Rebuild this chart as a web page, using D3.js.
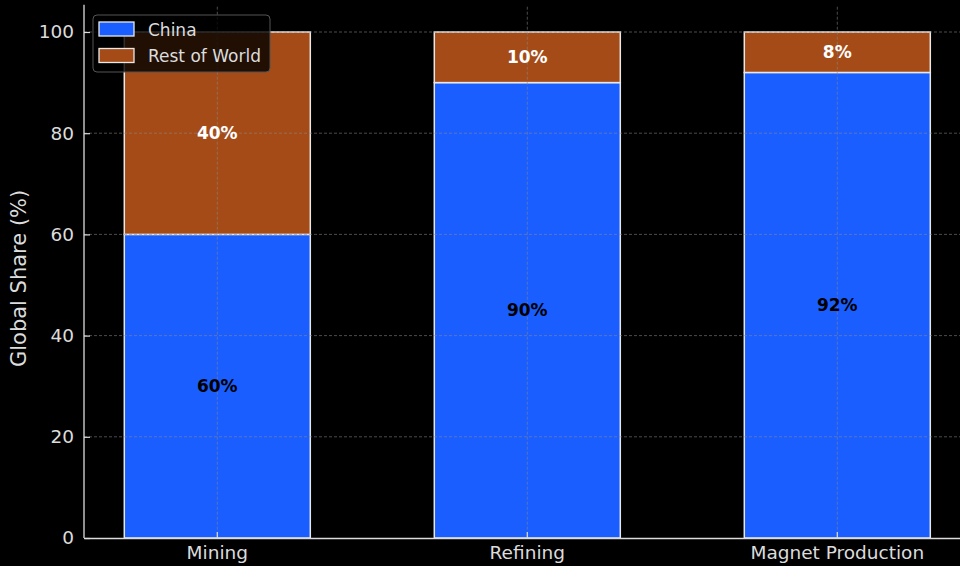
<!DOCTYPE html>
<html>
<head>
<meta charset="utf-8">
<script src="https://cdn.jsdelivr.net/npm/d3@7"></script>
<style>
  body { margin: 0; background: #000; }
  svg { display: block; font-family: "DejaVu Sans", sans-serif; }
</style>
</head>
<body>
<svg id="svg1"></svg>
<script>
const categories = ['Mining', 'Refining', 'Magnet Production'];
const china = [60, 90, 92];
const restOfWorld = [40, 10, 8];
const yTicks = [0, 20, 40, 60, 80, 100];
const seriesNames = ['China', 'Rest of World'];

const width = 960;
const height = 566;
const colors = ['#1a5eff', '#a54b17'];
const textColor = '#dcdcdc';

const svg = d3.select('#svg1')
    .attr('width', width)
    .attr('height', height)
    .style('background-color', '#000');

const x = d3.scaleBand()
    .domain(categories)
    .range([84, 970.6])
    .paddingInner(0.4)
    .paddingOuter(0.13);

const y = d3.scaleLinear()
    .domain([0, 105])
    .range([538, 538 - 105 * 5.06]);

// stacked bars
const stack = categories.map((c, i) => [
    { cat: c, y0: 0, y1: china[i], color: colors[0], label: china[i] + '%', text: '#000' },
    { cat: c, y0: china[i], y1: china[i] + restOfWorld[i], color: colors[1], label: restOfWorld[i] + '%', text: '#fff' }
]).flat();

svg.append('g')
    .selectAll('rect')
    .data(stack)
    .join('rect')
    .attr('x', d => x(d.cat))
    .attr('y', d => y(d.y1))
    .attr('width', x.bandwidth())
    .attr('height', d => y(d.y0) - y(d.y1))
    .attr('fill', d => d.color)
    .attr('stroke', '#e8e8e8')
    .attr('stroke-width', 1.5);

// grid on top of bars
const grid = svg.append('g')
    .attr('stroke', '#8a8a8a')
    .attr('stroke-opacity', 0.55)
    .attr('stroke-dasharray', '3,2')
    .attr('stroke-width', 1);
grid.selectAll('line.h')
    .data(yTicks.slice(1))
    .join('line')
    .attr('class', 'h')
    .attr('x1', 84).attr('x2', width)
    .attr('y1', d => y(d)).attr('y2', d => y(d));
grid.selectAll('line.v')
    .data(categories)
    .join('line')
    .attr('class', 'v')
    .attr('x1', d => x(d) + x.bandwidth() / 2)
    .attr('x2', d => x(d) + x.bandwidth() / 2)
    .attr('y1', y(105)).attr('y2', y(0));

// value labels
svg.append('g')
    .selectAll('text')
    .data(stack)
    .join('text')
    .attr('x', d => x(d.cat) + x.bandwidth() / 2)
    .attr('y', d => y((d.y0 + d.y1) / 2))
    .attr('dy', '0.36em')
    .attr('text-anchor', 'middle')
    .attr('font-size', 17)
    .attr('font-weight', 'bold')
    .attr('fill', d => d.text)
    .text(d => d.label);

// axes
const yAxis = d3.axisLeft(y)
    .tickValues(yTicks)
    .tickSizeInner(-6)
    .tickSizeOuter(0)
    .tickPadding(10);
const gy = svg.append('g')
    .attr('transform', 'translate(84,0)')
    .call(yAxis);
gy.select('.domain').attr('stroke', textColor).attr('stroke-width', 1.3)
    .attr('d', 'M0,' + y(0) + 'V' + (y(105) - 2));
gy.selectAll('.tick line').attr('stroke', textColor).attr('stroke-width', 1.2);
gy.selectAll('.tick text').attr('fill', textColor).attr('font-size', 18.5)
    .attr('font-family', 'DejaVu Sans, sans-serif');

const xAxis = d3.axisBottom(x)
    .tickSizeInner(-6)
    .tickSizeOuter(0)
    .tickPadding(8);
const gx = svg.append('g')
    .attr('transform', 'translate(0,538)')
    .call(xAxis);
gx.select('.domain').attr('stroke', textColor).attr('stroke-width', 1.3);
gx.selectAll('.tick line').attr('stroke', textColor).attr('stroke-width', 1.2);
gx.selectAll('.tick text').attr('fill', textColor).attr('font-size', 18.5)
    .attr('font-family', 'DejaVu Sans, sans-serif');

svg.append('text')
    .attr('transform', 'translate(26,' + y(51.3) + ') rotate(-90)')
    .attr('text-anchor', 'middle')
    .attr('font-size', 21)
    .attr('fill', textColor)
    .text('Global Share (%)');

// legend
const legend = svg.append('g');
legend.append('rect')
    .attr('x', 93).attr('y', 15)
    .attr('width', 177).attr('height', 57)
    .attr('rx', 4)
    .attr('fill', '#000')
    .attr('fill-opacity', 0.8)
    .attr('stroke', '#555')
    .attr('stroke-width', 1);
const items = legend.selectAll('g.item')
    .data(seriesNames)
    .join('g')
    .attr('class', 'item')
    .attr('transform', (d, i) => 'translate(99,' + (22 + i * 26.5) + ')');
items.append('rect')
    .attr('width', 35).attr('height', 14)
    .attr('fill', (d, i) => colors[i])
    .attr('stroke', '#e8e8e8')
    .attr('stroke-width', 1.3);
items.append('text')
    .attr('x', 49).attr('y', 13.5)
    .attr('font-size', 17)
    .attr('fill', textColor)
    .text(d => d);
</script>
</body>
</html>
